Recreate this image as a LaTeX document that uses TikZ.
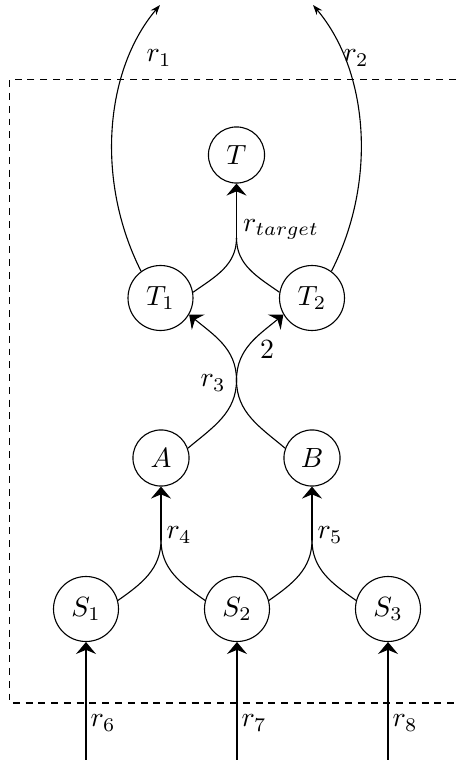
\documentclass[tikz,border=0pt]{standalone}
\usetikzlibrary{arrows.meta}
\begin{document}
\begin{tikzpicture}[x=0.36pt,y=0.36pt,
  st/.style={circle,draw,inner sep=1pt,minimum size=20.2pt},
  stbig/.style={circle,draw,inner sep=1pt,minimum size=23.4pt},
  arr/.style={-{Stealth[length=4.3pt,width=7.2pt,inset=1.5pt]}},
  thinarr/.style={-{Stealth[length=3.6pt,width=2.6pt]}},
  box/.style={dash pattern=on 2.5pt off 2.1pt},
  lbl/.style={inner sep=0pt}]
\useasboundingbox (0,0) rectangle (456,760);
% dashed boundary
\draw[box] (456,680.5) -- (9.5,680.5) -- (9.5,57) -- (456,57);
% nodes
\node[st] (T) at (236.5,605) {$T$};
\node[stbig] (T1) at (160.5,462) {$T_1$};
\node[stbig] (T2) at (312,462) {$T_2$};
\node[st] (A) at (161,302) {$A$};
\node[st] (B) at (312,302) {$B$};
\node[stbig] (S1) at (86,151) {$S_1$};
\node[stbig] (S2) at (237,151) {$S_2$};
\node[stbig] (S3) at (388,151) {$S_3$};
% helper coordinates
\coordinate (e1) at (160,755);
\coordinate (e2) at (313,755);
\coordinate (mt) at (236.5,522);
\coordinate (x3) at (236.5,380);
\coordinate (mA) at (161,220);
\coordinate (mB) at (312,220);
\coordinate (b1) at (86,0);
\coordinate (b2) at (237,0);
\coordinate (b3) at (388,0);
% outgoing r1, r2
\draw[thinarr] (T1.126) .. controls (95,580) and (105,690) .. (e1);
\draw[thinarr] (T2.54) .. controls (378,580) and (368,690) .. (e2);
% r_target
\draw (T1.10) to[out=35,in=-90] (mt);
\draw (T2.170) to[out=145,in=-90] (mt);
\draw[arr] (mt) -- (T);
% r3 and 2
\draw[arr] (A.20) to[out=40,in=-90] (x3) to[out=90,in=-40] (T1.-30);
\draw[arr] (B.160) to[out=140,in=-90] (x3) to[out=90,in=-140] (T2.-150);
% r4, r5
\draw (S1.15) to[out=35,in=-90] (mA);
\draw (S2.165) to[out=145,in=-90] (mA);
\draw[arr] (mA) -- (A);
\draw (S2.15) to[out=35,in=-90] (mB);
\draw (S3.165) to[out=145,in=-90] (mB);
\draw[arr] (mB) -- (B);
% inflows
\draw[arr] (b1) -- (S1);
\draw[arr] (b2) -- (S2);
\draw[arr] (b3) -- (S3);
% labels
\node[lbl] (l1) at (159,702) {$r_1$};
\node[lbl] (l2) at (356,702) {$r_2$};
\node[lbl] (lt) at (281,531) {$r_{target}$};
\node[lbl] (l3) at (213,377) {$r_3$};
\node[lbl] (l2b) at (267,410) {$2$};
\node[lbl] (l4) at (179,225) {$r_4$};
\node[lbl] (l5) at (330,225) {$r_5$};
\node[lbl] (l6) at (103,37) {$r_6$};
\node[lbl] (l7) at (254,37) {$r_7$};
\node[lbl] (l8) at (405,37) {$r_8$};
\end{tikzpicture}
\end{document}
